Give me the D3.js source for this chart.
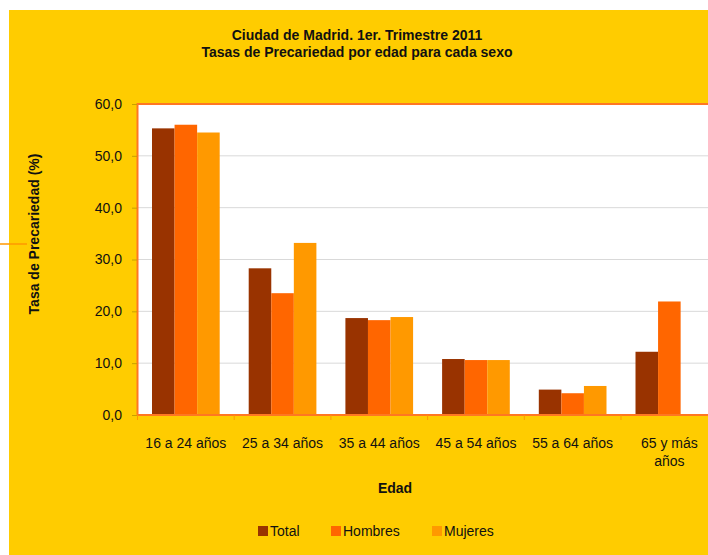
<!DOCTYPE html>
<html><head><meta charset="utf-8">
<script src="https://cdn.jsdelivr.net/npm/d3@7"></script>
<style>html,body{margin:0;padding:0;background:#fff}svg{display:block}</style>
</head><body>
<script>
const categories = ["16 a 24 años", "25 a 34 años", "35 a 44 años", "45 a 54 años", "55 a 64 años", "65 y más años"];
const categoryLines = [["16 a 24 años"], ["25 a 34 años"], ["35 a 44 años"], ["45 a 54 años"], ["55 a 64 años"], ["65 y más", "años"]];
const seriesNames = ["Total", "Hombres", "Mujeres"];
const totalValues = [55.3, 28.3, 18.7, 10.8, 4.9, 12.2];
const hombresValues = [56.0, 23.5, 18.3, 10.6, 4.2, 21.9];
const mujeresValues = [54.5, 33.2, 18.9, 10.6, 5.6, null];
const yTicks = [0, 10, 20, 30, 40, 50, 60];
const titleLines = ["Ciudad de Madrid. 1er. Trimestre 2011", "Tasas de Precariedad por edad para cada sexo"];
const yTitle = "Tasa de Precariedad (%)";
const xTitle = "Edad";
const colors = ["#993300", "#FF6600", "#FF9900"];

const W = 708, H = 555;
const font = "'Liberation Sans', Arial, sans-serif";
const svg = d3.select("body").append("svg").attr("width", W).attr("height", H);
svg.append("rect").attr("width", W).attr("height", H).attr("fill", "#fff");
svg.append("rect").attr("x", 9).attr("y", 10).attr("width", W - 9).attr("height", H - 10).attr("fill", "#FFCC00");
svg.append("line").attr("x1", 0).attr("x2", 27).attr("y1", 244).attr("y2", 244).attr("stroke", "#FF9900").attr("stroke-width", 1.5);

const plotL = 137.5, plotT = 104, plotB = 415, step = 96.7;
const plotR = plotL + step * categories.length;

const x = d3.scaleBand().domain(categories).range([plotL, plotR]).paddingInner(0.3).paddingOuter(0.15);
const xs = d3.scaleBand().domain(seriesNames).range([0, x.bandwidth()]);
const y = d3.scaleLinear().domain([0, 60]).range([plotB, plotT]);

svg.append("rect").attr("x", plotL).attr("y", plotT).attr("width", plotR - plotL).attr("height", plotB - plotT).attr("fill", "#fff");

svg.append("g").selectAll("line").data(yTicks.filter(d => d > 0 && d < 60)).join("line")
  .attr("x1", plotL).attr("x2", plotR).attr("y1", d => y(d)).attr("y2", d => y(d))
  .attr("stroke", "#D9D9D9").attr("stroke-width", 1);

const seriesData = [totalValues, hombresValues, mujeresValues];
const rows = categories.map((c, i) => ({ c, vals: seriesNames.map((s, j) => ({ s, j, v: seriesData[j][i] })) }));
const g = svg.append("g").selectAll("g").data(rows).join("g").attr("transform", d => `translate(${x(d.c)},0)`);
g.selectAll("rect").data(d => d.vals.filter(e => e.v != null)).join("rect")
  .attr("x", d => xs(d.s)).attr("width", xs.bandwidth())
  .attr("y", d => y(d.v)).attr("height", d => y(0) - y(d.v))
  .attr("fill", d => colors[d.j]);

svg.append("rect").attr("x", plotL).attr("y", plotT).attr("width", plotR - plotL).attr("height", plotB - plotT)
  .attr("fill", "none").attr("stroke", "#FF7722").attr("stroke-width", 2);

const yAxis = d3.axisLeft(y).tickValues(yTicks).tickFormat(d => d.toFixed(1).replace(".", ",")).tickSize(5).tickPadding(10);
const ya = svg.append("g").attr("transform", `translate(${plotL - 0.5},0)`).call(yAxis);
ya.select(".domain").remove();
ya.selectAll(".tick line").attr("stroke", "#C8A000");
ya.selectAll(".tick text").attr("font-family", font).attr("font-size", 14).attr("fill", "#111");

const bounds = categories.map(c => x(c) - x.step() * x.paddingInner() / 2);
svg.append("g").selectAll("line").data(bounds).join("line")
  .attr("x1", d => d).attr("x2", d => d).attr("y1", plotB).attr("y2", plotB + 5)
  .attr("stroke", "#FF9900").attr("stroke-width", 1);

const xl = svg.append("g").selectAll("text").data(categories).join("text")
  .attr("x", d => x(d) + x.bandwidth() / 2).attr("y", 448)
  .attr("text-anchor", "middle").attr("font-family", font).attr("font-size", 14).attr("fill", "#111");
xl.selectAll("tspan").data((d, i) => categoryLines[i]).join("tspan")
  .attr("x", function () { return d3.select(this.parentNode).attr("x"); })
  .attr("dy", (d, i) => i === 0 ? 0 : 18).text(d => d);

svg.append("text").attr("x", 357).attr("y", 40).attr("text-anchor", "middle")
  .attr("font-family", font).attr("font-size", 14).attr("font-weight", "bold").attr("fill", "#111")
  .selectAll("tspan").data(titleLines).join("tspan").attr("x", 357).attr("dy", (d, i) => i ? 17 : 0).text(d => d);

svg.append("text").attr("transform", "translate(39,234) rotate(-90)").attr("text-anchor", "middle")
  .attr("font-family", font).attr("font-size", 14).attr("font-weight", "bold").attr("fill", "#111").text(yTitle);

svg.append("text").attr("x", 395).attr("y", 493).attr("text-anchor", "middle")
  .attr("font-family", font).attr("font-size", 14).attr("font-weight", "bold").attr("fill", "#111").text(xTitle);

const legendX = [258, 331, 432];
const lg = svg.append("g").selectAll("g").data(seriesNames).join("g")
  .attr("transform", (d, i) => `translate(${legendX[i]},526)`);
lg.append("rect").attr("width", 10).attr("height", 10).attr("fill", (d, i) => colors[i]);
lg.append("text").attr("x", 12).attr("y", 10).attr("font-family", font).attr("font-size", 14).attr("fill", "#111").text(d => d);
</script>
</body></html>
